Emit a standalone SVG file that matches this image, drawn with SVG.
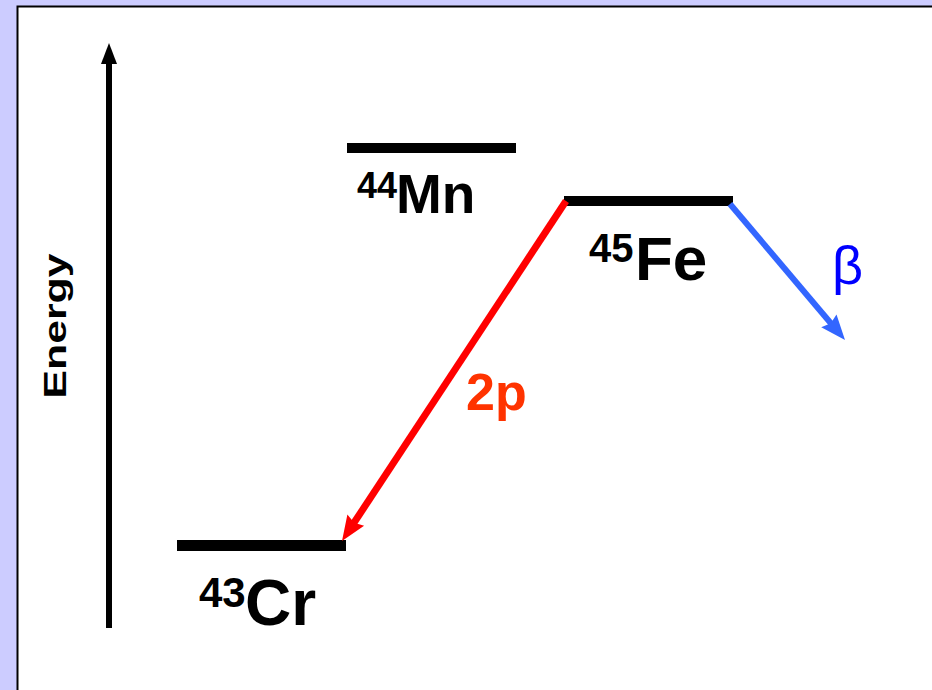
<svg xmlns="http://www.w3.org/2000/svg" width="932" height="690" viewBox="0 0 932 690">
  <style>
    .lvl { fill: #000000; }
    .lab { font-family: "Liberation Sans", Arial, sans-serif; font-weight: bold; fill: #000000; }
  </style>
  <defs>
    <marker id="headK" markerUnits="userSpaceOnUse" viewBox="-2 -10 22 20" refX="0" refY="0" markerWidth="22" markerHeight="20" orient="auto">
      <path d="M20,0 L-1,-8 L-1,8 Z" fill="#000000"/>
    </marker>
    <marker id="headR" markerUnits="userSpaceOnUse" viewBox="-6 -11 28 22" refX="0" refY="0" markerWidth="28" markerHeight="22" orient="auto">
      <path d="M20,0 L-5,-10 L-2,0 L-5,10 Z" fill="#FF0000"/>
    </marker>
    <marker id="headB" markerUnits="userSpaceOnUse" viewBox="-6 -11 28 22" refX="0" refY="0" markerWidth="28" markerHeight="22" orient="auto">
      <path d="M20,0 L-5,-10 L-2,0 L-5,10 Z" fill="#3366FF"/>
    </marker>
  </defs>

  <rect x="0" y="0" width="932" height="690" fill="#CCCCFF"/>
  <rect x="17.5" y="6.5" width="930" height="700" fill="#FFFFFF" stroke="#000000" stroke-width="2"/>

  <g id="axis">
    <line x1="109" y1="628" x2="109" y2="63" stroke="#000000" stroke-width="6" marker-end="url(#headK)"/>
    <text class="lab" transform="translate(66,326) rotate(-90) scale(1.38,1)" font-size="31" text-anchor="middle">Energy</text>
  </g>

  <g id="Mn44">
    <rect class="lvl" x="347" y="143" width="169" height="10"/>
    <text class="lab" x="357" y="198" font-size="36">44</text>
    <text class="lab" x="396" y="213" font-size="55">Mn</text>
  </g>

  <g id="Fe45">
    <rect class="lvl" x="564" y="196" width="169" height="10"/>
    <text class="lab" x="589" y="262" font-size="40">45</text>
    <text class="lab" x="635" y="280" font-size="62">Fe</text>
  </g>

  <g id="Cr43">
    <rect class="lvl" x="177" y="540" width="169" height="11"/>
    <text class="lab" x="199" y="607" font-size="42">43</text>
    <text class="lab" x="245" y="625" font-size="64">Cr</text>
  </g>

  <g id="connectors">
    <line x1="566" y1="201" x2="353" y2="524.3" stroke="#FF0000" stroke-width="7" marker-end="url(#headR)"/>
    <line x1="730" y1="204" x2="832.1" y2="324.7" stroke="#3366FF" stroke-width="6" marker-end="url(#headB)"/>
    <text x="466" y="410" font-family="Liberation Sans, Arial, sans-serif" font-weight="bold" font-size="52" fill="#FF3300">2p</text>
    <text x="832" y="284" font-family="Liberation Sans, Arial, sans-serif" font-size="54" fill="#0000FF">β</text>
  </g>
</svg>
